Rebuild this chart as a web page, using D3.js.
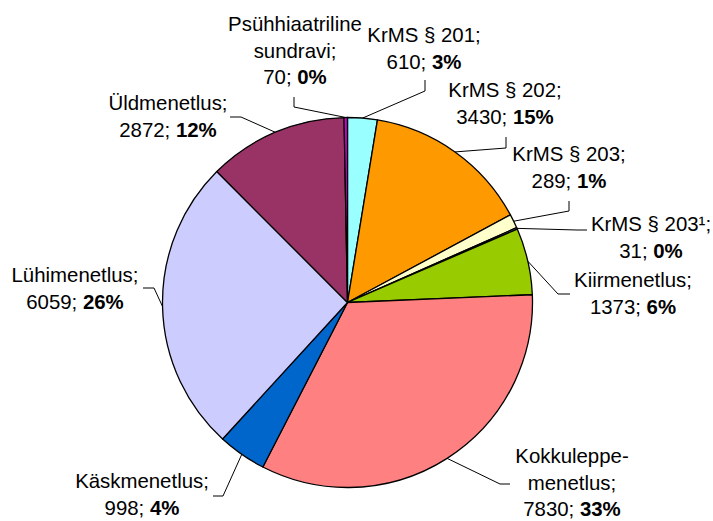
<!DOCTYPE html>
<html>
<head>
<meta charset="utf-8">
<script src="https://cdn.jsdelivr.net/npm/d3@7"></script>
<style>
  body { margin: 0; background: #fff; }
  text { font-family: "Liberation Sans", Arial, sans-serif; font-size: 20.4px; fill: #000; }
</style>
</head>
<body>
<div id="pieDiv"></div>
<script>

// data, clockwise from 12 o'clock
var categories = ["KrMS § 201", "KrMS § 202", "KrMS § 203", "KrMS § 203¹", "Kiirmenetlus",
                  "Kokkuleppemenetlus", "Käskmenetlus", "Lühimenetlus", "Üldmenetlus", "Psühhiaatriline sundravi"];
var values = [610, 3430, 289, 31, 1373, 7830, 998, 6059, 2872, 70];
var colors = ["#99FFFF", "#FF9900", "#FFFFCC", "#99CCFF", "#99CC00",
              "#FF8080", "#0066CC", "#CCCCFF", "#993366", "#CC00CC"];
// how the category names break over lines in the labels
var nameLines = [["KrMS § 201;"], ["KrMS § 202;"], ["KrMS § 203;"], ["KrMS § 203¹;"], ["Kiirmenetlus;"],
                 ["Kokkuleppe-", "menetlus;"], ["Käskmenetlus;"], ["Lühimenetlus;"], ["Üldmenetlus;"], ["Psühhiaatriline", "sundravi;"]];

// label placement: text centre + first baseline, then leader start and elbow
var labelPos = [[424, 42], [505, 97], [569, 161], [651, 231], [633, 287],
                [572, 463], [142, 488], [75, 282], [168, 110], [295, 31]];
var leaderPts = [[[425, 80], [425, 91]], [[506, 137], [506, 148]], [[569, 201], [569, 211]],
                 [[587, 230], [577, 230]], [[570, 294], [558, 294]], [[510, 484], [500, 484]],
                 [[213, 496], [223, 496]], [[143, 288], [154, 288]], [[230, 117], [241, 117]],
                 [[294, 97], [294, 107]]];

var width = 713, height = 521,
    cx = 347.5, cy = 302.5, radius = 185, lineH = 26.7;

var svg = d3.select("#pieDiv")
  .append("svg")
    .attr("width", width)
    .attr("height", height);

var total = d3.sum(values);
var pct = d3.format(".0%");

var pie = d3.pie().sort(null).value(function(d) { return d; });
var arcs = pie(values);

var arc = d3.arc().innerRadius(0).outerRadius(radius);

var g = svg.append("g")
    .attr("transform", "translate(" + cx + "," + cy + ")");

g.selectAll("path")
  .data(arcs)
  .enter()
  .append("path")
    .attr("d", arc)
    .style("fill", function(d, i) { return colors[i]; })
    .style("stroke", "#000")
    .style("stroke-width", 1.3)
    .style("stroke-linejoin", "round");

// leader lines: label -> elbow -> pie edge at the slice middle
function edgePoint(d) {
  var a = (d.startAngle + d.endAngle) / 2;
  return [cx + radius * Math.sin(a), cy - radius * Math.cos(a)];
}

svg.selectAll("polyline.leader")
  .data(arcs)
  .enter()
  .append("polyline")
    .attr("class", "leader")
    .attr("points", function(d, i) {
      return [leaderPts[i][0], leaderPts[i][1], edgePoint(d)].map(function(p) { return p.join(","); }).join(" ");
    })
    .style("fill", "none")
    .style("stroke", "#000")
    .style("stroke-width", 1);

// labels
var labels = svg.selectAll("text.lbl")
  .data(arcs)
  .enter()
  .append("text")
    .attr("class", "lbl")
    .attr("text-anchor", "middle")
    .attr("x", function(d, i) { return labelPos[i][0]; })
    .attr("y", function(d, i) { return labelPos[i][1]; });

labels.each(function(d, i) {
  var t = d3.select(this);
  nameLines[i].forEach(function(line, k) {
    t.append("tspan")
      .attr("x", labelPos[i][0])
      .attr("y", labelPos[i][1] + k * lineH)
      .text(line);
  });
  t.append("tspan")
    .attr("x", labelPos[i][0])
    .attr("y", labelPos[i][1] + nameLines[i].length * lineH)
    .text(values[i] + "; ");
  t.append("tspan")
    .style("font-weight", "bold")
    .text(pct(values[i] / total));
});

</script>
</body>
</html>
